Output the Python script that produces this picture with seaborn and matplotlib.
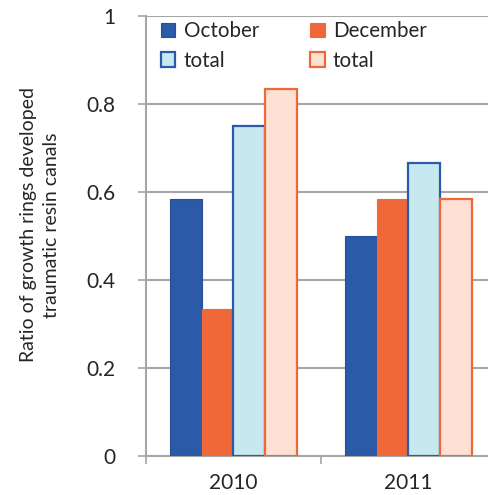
import matplotlib
matplotlib.use("Agg")
import matplotlib.pyplot as plt
from matplotlib.patches import Patch
import seaborn as sns
import pandas as pd

years = ["2010", "2011"]
series = ["October", "December", "October total", "December total"]
legend_labels = ["October", "December", "total", "total"]
october = [0.583, 0.5]
december = [0.333, 0.583]
october_total = [0.75, 0.667]
december_total = [0.833, 0.583]
y_ticks = [0, 0.2, 0.4, 0.6, 0.8, 1]
y_tick_labels = ["0", "0.2", "0.4", "0.6", "0.8", "1"]
y_label = "Ratio of growth rings developed\ntraumatic resin canals"

fills = ["#2A5AA8", "#F06838", "#C8E8F0", "#FFE0D4"]
edges = ["#2A4E9A", "#F06838", "#2A5AA8", "#F06838"]

values = [october, december, october_total, december_total]
df = pd.DataFrame(
    [(y, s, v[i]) for s, v in zip(series, values) for i, y in enumerate(years)],
    columns=["year", "series", "value"],
)

sns.set_style("white")
plt.rcParams["font.family"] = ["Lato", "DejaVu Sans"]
text_color = "#262626"
grid_color = "#A6A6A6"

fig = plt.figure(figsize=(4.89, 4.95), dpi=100)
ax = fig.add_axes([146 / 489, 39 / 495, 350 / 489, 440 / 495])

sns.barplot(data=df, x="year", y="value", hue="series", hue_order=series,
            order=years, palette=fills, width=0.726, gap=0, legend=False,
            saturation=1, ax=ax, zorder=3)

for k, cont in enumerate(ax.containers):
    for bar in cont:
        bar.set_facecolor(fills[k])
        bar.set_edgecolor(edges[k])
        bar.set_linewidth(1.6 if k >= 2 else 0.8)
        bar.set_zorder(3)

ax.set_xlim(-0.5, 1.5)
ax.set_ylim(0, 1)
ax.set_yticks(y_ticks)
ax.set_yticklabels(y_tick_labels)
ax.yaxis.grid(True, color=grid_color, linewidth=1.5, zorder=0)
ax.set_axisbelow(True)

ax.set_xticks([-0.5, 0.5, 1.5])
ax.set_xticklabels(["", "", ""])
ax.set_xticks([0, 1], minor=True)
ax.set_xticklabels(years, minor=True)
ax.tick_params(axis="x", which="major", length=6, width=1.2, color=grid_color,
               direction="out", bottom=True)
ax.tick_params(axis="x", which="minor", length=0, pad=12, labelsize=15,
               labelcolor=text_color)
ax.tick_params(axis="y", length=6, width=1.2, color=grid_color, direction="out",
               left=True, pad=16, labelsize=15, labelcolor=text_color)

for side in ["top", "right"]:
    ax.spines[side].set_visible(False)
for side in ["left", "bottom"]:
    ax.spines[side].set_color(grid_color)
    ax.spines[side].set_linewidth(1.5)

ax.set_xlabel("")
ax.set_ylabel(y_label, fontsize=14, color=text_color, linespacing=1.45)
ax.yaxis.set_label_coords(-0.245, 0.525)

handles = [Patch(facecolor=f, edgecolor=e, linewidth=1.6 if k >= 2 else 0.8)
           for k, (f, e) in enumerate(zip(fills, edges))]
order = [0, 2, 1, 3]
ax.legend([handles[i] for i in order], [legend_labels[i] for i in order],
          ncol=2, frameon=False, loc="upper left",
          bbox_to_anchor=(-0.01, 1.03), fontsize=14.8, handlelength=0.7,
          handleheight=0.7, handletextpad=0.4, columnspacing=2.5,
          labelspacing=0.45, labelcolor=text_color)

fig.savefig("out.png", dpi=100)
